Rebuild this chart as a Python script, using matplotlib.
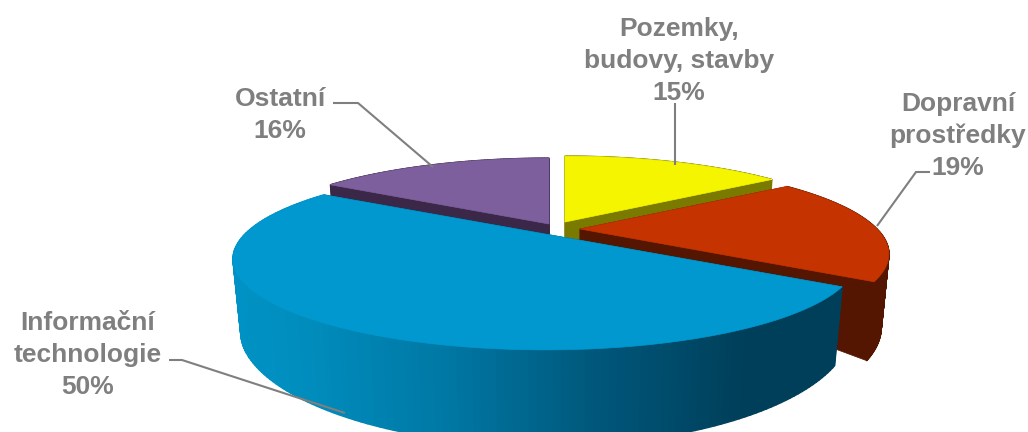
import numpy as np
import matplotlib
matplotlib.use("Agg")
import matplotlib.pyplot as plt
from matplotlib.colors import LinearSegmentedColormap
from matplotlib.collections import PolyCollection

categories = ["Pozemky,\nbudovy, stavby", "Dopravní\nprostředky", "Informační\ntechnologie", "Ostatní"]
values = [15, 19, 50, 16]

# styles and layout (pixel space)
top_colors = ["#f5f500", "#c53300", "#0098cf", "#7d5f9d"]
side_colors = ["#7a7a00", "#541600", "#00405c", "#3b2748"]
apexes = [(565, 222), (580, 229), (545, 234), (549, 224)]
radii = [297, 297, 300, 297]
RY, P = 84, 0.275
DEPTH, DEPTH_Q, SHRINK = 72, 24, 0.975
label_pos = [(679, 61), (958, 136), (88, 355), (280, 115)]
leaders = [[(675, 103), (675, 165)],
           [(877, 226), (916, 172), (930, 172)],
           [(169, 360), (182, 360), (345, 413)],
           [(333, 103), (358, 103), (433, 167)]]
GRAY = "#7f7f7f"

plt.rcParams["font.family"] = ["Liberation Sans", "DejaVu Sans"]
fig = plt.figure(figsize=(10.28, 4.32), dpi=100)
ax = fig.add_axes([0, 0, 1, 1])
ax.set_xlim(0, 1028)
ax.set_ylim(432, 0)
ax.axis("off")


def rim(theta, apex, rx):
    """theta: clockwise radians from 12 o'clock. Returns top rim and bottom rim."""
    u, v = np.sin(theta), np.cos(theta)
    w = 1 + P * v
    x = apex[0] + rx * u / w
    y = apex[1] - RY * v / w
    xb = apex[0] + (x - apex[0]) * SHRINK
    yb = y + DEPTH + DEPTH_Q * v ** 2
    return x, y, xb, yb


blue_cmap = LinearSegmentedColormap.from_list(
    "side", [(0, "#0092c4"), (0.12, "#008dbd"), (0.35, "#0078a5"),
             (0.6, "#00587c"), (0.85, "#003f5a"), (1, "#003f5a")])

fracs = np.array(values, float) / np.sum(values)
edges = np.concatenate([[0], np.cumsum(fracs)]) * 2 * np.pi

for i in [3, 0, 1, 2]:
    a0, a1 = edges[i], edges[i + 1]
    apex, rx = apexes[i], radii[i]
    th = np.linspace(a0, a1, 160)
    x, y, xb, yb = rim(th, apex, rx)
    # radial faces
    for a in (a0, a1):
        ex, ey, exb, eyb = rim(np.array([a]), apex, rx)
        ay_b = apex[1] + DEPTH * 0.35
        ax.add_patch(plt.Polygon([apex, (ex[0], ey[0]), (exb[0], eyb[0]), (apex[0], ay_b)],
                                 closed=True, fc=side_colors[i], ec=side_colors[i], lw=0.5))
    # outer curved side
    quads = [[(x[k], y[k]), (x[k + 1], y[k + 1]), (xb[k + 1], yb[k + 1]), (xb[k], yb[k])]
             for k in range(len(th) - 1)]
    if i == 2:
        t = np.clip((x[:-1] - 232) / (840 - 232), 0, 1)
        cols = blue_cmap(t)
    else:
        cols = [side_colors[i]] * len(quads)
    ax.add_collection(PolyCollection(quads, facecolors=cols, edgecolors=cols, linewidths=1.0))
    # top face
    ax.add_patch(plt.Polygon(np.vstack([[apex], np.column_stack([x, y])]), closed=True,
                             fc=top_colors[i], ec=top_colors[i], lw=0.5))

for pts in leaders:
    p = np.array(pts)
    ax.plot(p[:, 0], p[:, 1], color=GRAY, lw=1.5, solid_capstyle="butt")

for cat, val, (lx, ly) in zip(categories, values, label_pos):
    ax.text(lx, ly, f"{cat}\n{val}%", ha="center", va="center", color=GRAY,
            fontsize=19, fontweight="bold", linespacing=1.4)

fig.savefig("out.png", dpi=100)
